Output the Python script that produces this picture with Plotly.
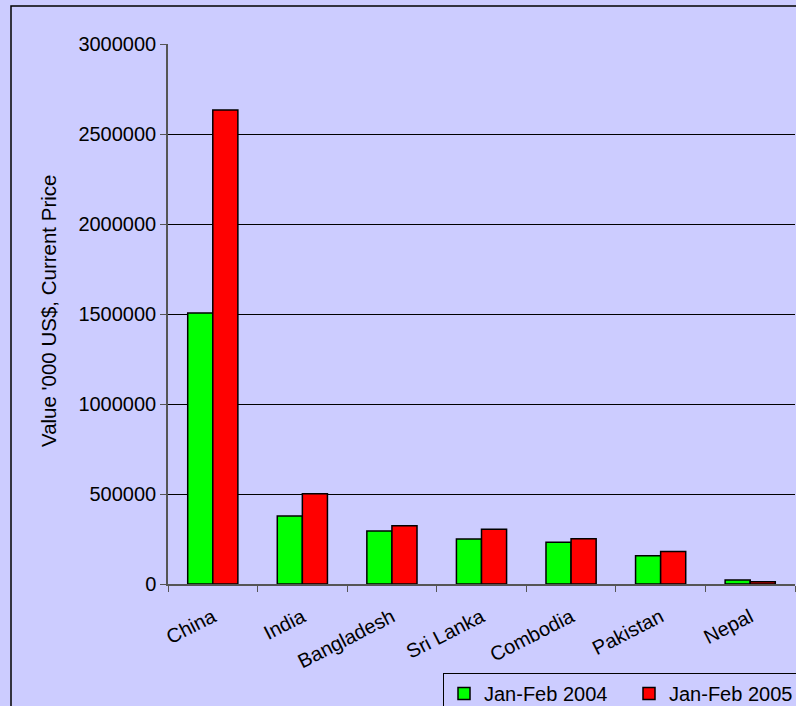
import plotly.graph_objects as go

categories = ["China", "India", "Bangladesh", "Sri Lanka", "Combodia", "Pakistan", "Nepal"]
jan_feb_2004 = [1505000, 378000, 294000, 250000, 232000, 157000, 22000]
jan_feb_2005 = [2633000, 502000, 324000, 304000, 252000, 180000, 13000]
series_names = ["Jan-Feb 2004", "Jan-Feb 2005"]
y_ticks = [0, 500000, 1000000, 1500000, 2000000, 2500000, 3000000]

W, H = 796, 706
ml, mr, mt, mb = 168, 1, 44, 122
pw = W - ml - mr
ph = H - mt - mb
FONT = "Liberation Sans, Arial, sans-serif"
BG = "#CCCCFF"

fig = go.Figure()
fig.add_trace(go.Bar(x=categories, y=jan_feb_2004, name=series_names[0],
                     marker=dict(color="#00FF00", line=dict(color="black", width=1.5))))
fig.add_trace(go.Bar(x=categories, y=jan_feb_2005, name=series_names[1],
                     marker=dict(color="#FF0000", line=dict(color="black", width=1.5))))

fig.update_layout(
    width=W, height=H,
    margin=dict(l=ml, r=mr, t=mt, b=mb, autoexpand=False),
    paper_bgcolor=BG, plot_bgcolor=BG,
    font=dict(family=FONT, size=20, color="black"),
    barmode="group", bargap=0.44, bargroupgap=0,
    showlegend=True,
    legend=dict(orientation="h", x=(443 - ml) / pw, y=(584 - 673) / ph,
                xanchor="left", yanchor="top",
                bgcolor=BG, bordercolor="black", borderwidth=1,
                font=dict(size=20), entrywidth=140, itemwidth=30, traceorder="normal"),
    xaxis=dict(showline=True, linecolor="#555555", linewidth=1.5,
               ticks="outside", tickson="boundaries", ticklen=6, tickcolor="#555555",
               tickangle=-27, ticklabelstandoff=12, tickfont=dict(size=20), showgrid=False),
    yaxis=dict(range=[0, 3000000], tickvals=y_ticks, tickformat="d",
               showline=True, linecolor="#555555", linewidth=1.5,
               ticks="outside", ticklen=6, tickcolor="#555555",
               showgrid=True, gridcolor="black", gridwidth=1,
               zeroline=False, tickfont=dict(size=20)),
    annotations=[dict(text="Value '000 US$, Current Price", xref="paper", yref="paper",
                      x=(48 - ml) / pw, y=(584 - 311) / ph, textangle=-90, showarrow=False,
                      font=dict(size=20.5), xanchor="center", yanchor="middle")],
    shapes=[dict(type="rect", xref="paper", yref="paper",
                 x0=(11 - ml) / pw, x1=1.2, y0=-0.5, y1=(584 - 6) / ph,
                 line=dict(color="black", width=1.5), fillcolor="rgba(0,0,0,0)", layer="below")],
)

fig.write_html("out.html", config={"displayModeBar": False})

with open("out.html", "r", encoding="utf-8") as f:
    html = f.read()
html = html.replace("<head>", "<head><style>html,body{margin:0;padding:0;background:#CCCCFF;overflow:hidden}</style>", 1)
with open("out.html", "w", encoding="utf-8") as f:
    f.write(html)
